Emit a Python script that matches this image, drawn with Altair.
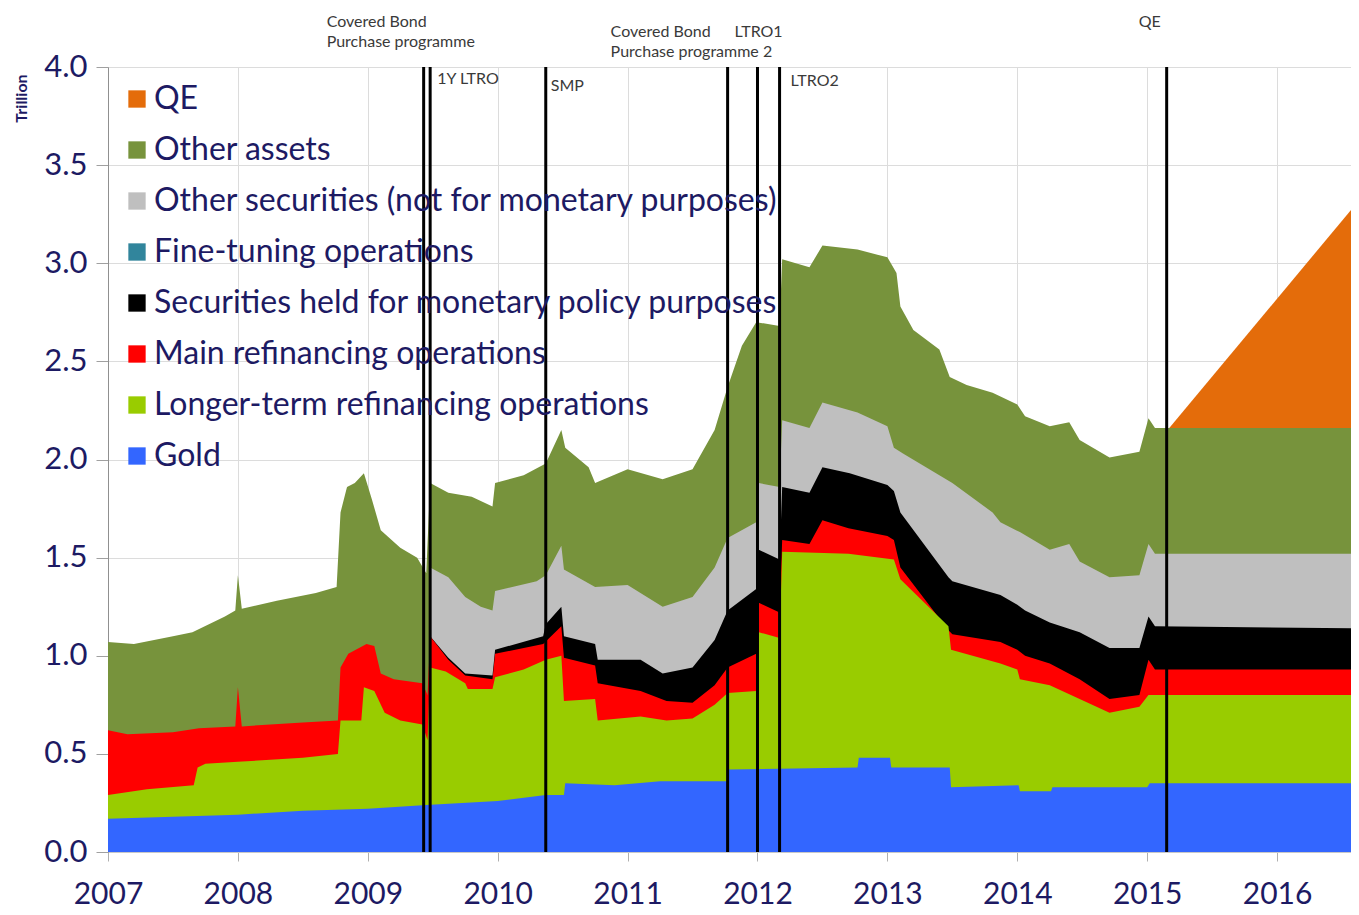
import altair as alt
import pandas as pd

# ------------------------------------------------------------------
# Data (trillion EUR). Each series holds the
# top edge of its band in the stacked picture.
# ------------------------------------------------------------------
SERIES = [
    "QE",
    "Other assets",
    "Other securities (not for monetary purposes)",
    "Fine-tuning operations",
    "Securities held for monetary policy purposes",
    "Main refinancing operations",
    "Longer-term refinancing operations",
    "Gold",
]
COLORS = ["#E46C0A", "#77933C", "#BFBFBF", "#31859C", "#000000",
          "#FF0000", "#99CC00", "#3366FF"]

gold_t = [2007.0, 2007.5, 2008.0, 2008.5, 2009.0, 2009.45, 2010.0, 2010.37,
          2010.51, 2010.52, 2010.9, 2011.25, 2011.77, 2011.78, 2012.77,
          2012.78, 2013.02, 2013.03, 2013.48, 2013.49, 2014.01, 2014.02,
          2014.26, 2014.27, 2015.0, 2015.02, 2016.63]
gold_v = [0.17, 0.18, 0.19, 0.21, 0.22, 0.24, 0.26, 0.29,
          0.29, 0.35, 0.34, 0.36, 0.36, 0.42, 0.43,
          0.48, 0.48, 0.43, 0.43, 0.33, 0.34, 0.31,
          0.31, 0.33, 0.33, 0.35, 0.35]

ltro_t = [2007.0, 2007.3, 2007.66, 2007.69, 2007.75, 2008.0, 2008.5, 2008.77,
          2008.79, 2008.95, 2008.97, 2009.05, 2009.13, 2009.25, 2009.42,
          2009.46, 2009.48, 2009.6, 2009.75, 2009.77, 2009.96, 2009.98,
          2010.2, 2010.37, 2010.49, 2010.51, 2010.75, 2010.77, 2011.1,
          2011.3, 2011.5, 2011.67, 2011.77, 2011.99, 2012.01, 2012.17,
          2012.19, 2012.7, 2013.05, 2013.1, 2013.47, 2013.49, 2013.87,
          2014.0, 2014.02, 2014.25, 2014.48, 2014.71, 2014.94, 2015.01,
          2016.63]
ltro_v = [0.29, 0.32, 0.34, 0.43, 0.45, 0.46, 0.48, 0.50,
          0.67, 0.67, 0.84, 0.82, 0.71, 0.67, 0.65,
          0.57, 0.94, 0.92, 0.86, 0.83, 0.83, 0.89,
          0.93, 0.98, 1.00, 0.77, 0.78, 0.67, 0.69,
          0.67, 0.68, 0.75, 0.81, 0.82, 1.12, 1.09,
          1.53, 1.52, 1.49, 1.39, 1.15, 1.03, 0.96,
          0.93, 0.88, 0.85, 0.78, 0.71, 0.74, 0.80,
          0.80]

mro_t = [2007.0, 2007.15, 2007.5, 2007.7, 2007.98, 2008.0, 2008.03, 2008.5,
         2008.77, 2008.79, 2008.85, 2008.99, 2009.05, 2009.1, 2009.2,
         2009.42, 2009.46, 2009.48, 2009.62, 2009.75, 2009.96, 2009.98,
         2010.35, 2010.49, 2010.51, 2010.75, 2010.77, 2011.1, 2011.3,
         2011.5, 2011.67, 2011.77, 2011.99, 2012.01, 2012.17, 2012.19,
         2012.4, 2012.5, 2012.7, 2013.0, 2013.05, 2013.1, 2013.47, 2013.5,
         2013.87, 2014.0, 2014.06, 2014.25, 2014.48, 2014.71, 2014.94,
         2015.01, 2015.06, 2016.63]
mro_v = [0.62, 0.60, 0.61, 0.63, 0.64, 0.84, 0.64, 0.66,
         0.67, 0.94, 1.01, 1.06, 1.05, 0.91, 0.88,
         0.86, 0.80, 1.10, 0.98, 0.90, 0.88, 1.01,
         1.06, 1.15, 0.99, 0.95, 0.86, 0.82, 0.77,
         0.76, 0.85, 0.94, 1.01, 1.27, 1.22, 1.59,
         1.57, 1.69, 1.65, 1.61, 1.59, 1.45, 1.13, 1.11,
         1.07, 1.03, 1.00, 0.96, 0.88, 0.78, 0.80,
         0.98, 0.93, 0.93]

smp_t = [2009.48, 2009.62, 2009.75, 2009.96, 2009.98, 2010.35, 2010.37,
         2010.49, 2010.51, 2010.75, 2010.77, 2011.1, 2011.27, 2011.5,
         2011.67, 2011.77, 2011.99, 2012.01, 2012.17, 2012.19, 2012.4,
         2012.5, 2012.71, 2013.0, 2013.05, 2013.1, 2013.47, 2013.5,
         2013.87, 2014.0, 2014.06, 2014.25, 2014.48, 2014.71, 2014.94,
         2015.01, 2015.06, 2016.63]
smp_v = [1.10, 0.99, 0.91, 0.90, 1.03, 1.10, 1.16,
         1.25, 1.10, 1.06, 0.98, 0.98, 0.91, 0.94,
         1.08, 1.23, 1.34, 1.54, 1.49, 1.86, 1.83,
         1.96, 1.93, 1.87, 1.84, 1.73, 1.40, 1.38,
         1.31, 1.26, 1.23, 1.17, 1.12, 1.04, 1.04,
         1.20, 1.15, 1.14]

osec_t = [2009.48, 2009.62, 2009.75, 2009.87, 2009.96, 2009.98, 2010.3,
          2010.37, 2010.49, 2010.51, 2010.75, 2011.0, 2011.27, 2011.5,
          2011.67, 2011.77, 2011.99, 2012.01, 2012.17, 2012.19, 2012.4,
          2012.5, 2012.77, 2013.0, 2013.05, 2013.12, 2013.5, 2013.81,
          2013.87, 2014.02, 2014.25, 2014.4, 2014.48, 2014.71, 2014.94,
          2015.01, 2015.06, 2016.63]
osec_v = [1.45, 1.40, 1.30, 1.25, 1.23, 1.33, 1.38,
          1.41, 1.56, 1.44, 1.35, 1.36, 1.25, 1.30,
          1.45, 1.60, 1.68, 1.88, 1.86, 2.20, 2.16,
          2.29, 2.24, 2.17, 2.06, 2.03, 1.88, 1.73,
          1.68, 1.63, 1.54, 1.57, 1.48, 1.40, 1.41,
          1.57, 1.52, 1.52]

oth_t = [2007.0, 2007.2, 2007.5, 2007.65, 2007.9, 2007.98, 2008.0, 2008.03,
         2008.3, 2008.6, 2008.76, 2008.79, 2008.84, 2008.9, 2008.97,
         2009.03, 2009.1, 2009.25, 2009.38, 2009.45, 2009.48, 2009.62,
         2009.8, 2009.96, 2009.98, 2010.2, 2010.37, 2010.49, 2010.52,
         2010.7, 2010.75, 2011.0, 2011.27, 2011.5, 2011.67, 2011.77,
         2011.88, 2011.99, 2012.17, 2012.19, 2012.4, 2012.5, 2012.77,
         2013.0, 2013.07, 2013.1, 2013.2, 2013.4, 2013.48, 2013.61,
         2013.81, 2014.0, 2014.06, 2014.25, 2014.4, 2014.48, 2014.71,
         2014.94, 2015.01, 2015.06, 2016.63]
oth_v = [1.07, 1.06, 1.10, 1.12, 1.20, 1.23, 1.41, 1.24,
         1.28, 1.32, 1.35, 1.73, 1.86, 1.88, 1.93,
         1.80, 1.64, 1.55, 1.50, 1.42, 1.88, 1.83,
         1.81, 1.76, 1.88, 1.92, 1.98, 2.15, 2.06,
         1.96, 1.88, 1.95, 1.90, 1.95, 2.15, 2.37,
         2.58, 2.70, 2.68, 3.02, 2.98, 3.09, 3.07,
         3.03, 2.95, 2.78, 2.66, 2.56, 2.42, 2.38,
         2.34, 2.28, 2.22, 2.17, 2.19, 2.10, 2.01,
         2.04, 2.21, 2.16, 2.16]

qe_t = [2015.17, 2016.63]
qe_v = [2.16, 3.32]

# policy events (vertical lines)
event_t = [2009.43, 2009.48, 2010.37, 2011.77, 2012.0, 2012.17, 2015.15]

# ------------------------------------------------------------------
NAVY = "#1d1a63"
FONT = "Lato"
X0, X1 = 2007.0, 2016.569

color_scale = alt.Scale(domain=SERIES, range=COLORS)
legend = alt.Legend(
    orient="none", legendX=13, legendY=16, title=None, padding=0,
    symbolType="square", symbolSize=300, symbolStrokeWidth=0,
    symbolOpacity=1, labelFontSize=32, labelFont=FONT, labelColor=NAVY,
    rowPadding=19, labelOffset=1, labelLimit=0,
)
x_enc = alt.X(
    "t:Q",
    scale=alt.Scale(domain=[X0, X1], nice=False, zero=False),
    axis=alt.Axis(
        values=list(range(2007, 2017)), format="d", title=None,
        labelFontSize=30, labelFont=FONT, labelColor=NAVY, labelPadding=18,
        tickSize=9, tickColor="#b0b0b0", domainColor="#c8c8c8",
        gridColor="#dcdcdc", gridWidth=1, labelFlush=False,
    ),
)
y_enc = alt.Y(
    "v:Q", stack=None,
    scale=alt.Scale(domain=[0, 4], nice=False),
    axis=alt.Axis(
        values=[0, 0.5, 1.0, 1.5, 2.0, 2.5, 3.0, 3.5, 4.0], format=".1f",
        labelFontSize=31, labelFont=FONT, labelColor=NAVY, labelPadding=9,
        tickSize=12, tickColor="#a0a0a0", domainColor="#909090",
        gridColor="#dcdcdc", gridWidth=1,
        title="Trillion", titleFont=FONT, titleFontSize=16,
        titleFontWeight="bold", titleColor=NAVY, titleAngle=-90,
        titleX=-87, titleY=31, titleAlign="center", titleBaseline="middle",
    ),
)


def band(name, t, v):
    df = pd.DataFrame({"t": t, "v": v, "series": name})
    return alt.Chart(df).mark_area(
        interpolate="linear", opacity=1, clip=True
    ).encode(
        x=x_enc, y=y_enc,
        color=alt.Color("series:N", scale=color_scale, legend=legend),
    )


layers = [
    band(SERIES[0], qe_t, qe_v),
    band(SERIES[1], oth_t, oth_v),
    band(SERIES[2], osec_t, osec_v),
    band(SERIES[4], smp_t, smp_v),
    band(SERIES[5], mro_t, mro_v),
    band(SERIES[6], ltro_t, ltro_v),
    band(SERIES[7], gold_t, gold_v),
]

rules = alt.Chart(pd.DataFrame({"t": event_t})).mark_rule(
    color="black", strokeWidth=3
).encode(x=alt.X("t:Q"))


def label(year, text, py, dx, align="left"):
    return alt.Chart(pd.DataFrame({"_": [0]})).mark_text(
        text=text, align=align, baseline="middle", dx=dx, font=FONT,
        fontSize=16, color="#3a3a3a", lineHeight=20,
    ).encode(x=alt.datum(year), y=alt.value(py))


labels = [
    label(event_t[0], ["Covered Bond", "Purchase programme"], -45, -97),
    label(event_t[1], "1Y LTRO", 12, 7),
    label(event_t[2], "SMP", 19, 5),
    label(event_t[3], ["Covered Bond", "Purchase programme 2"], -35, -117),
    label(event_t[4], "LTRO1", -35, -23),
    label(event_t[5], "LTRO2", 14, 11),
    label(event_t[6], "QE", -45, -17, "center"),
]

chart = alt.layer(*layers, rules, *labels).properties(
    width=1243, height=785,
    padding={"left": 100, "top": 59, "right": 0, "bottom": 60},
    autosize=alt.AutoSizeParams(type="none"),
    background="white",
).configure_view(strokeWidth=0).configure(font=FONT)

chart.save("out.html", embed_options={"renderer": "svg", "actions": False})
